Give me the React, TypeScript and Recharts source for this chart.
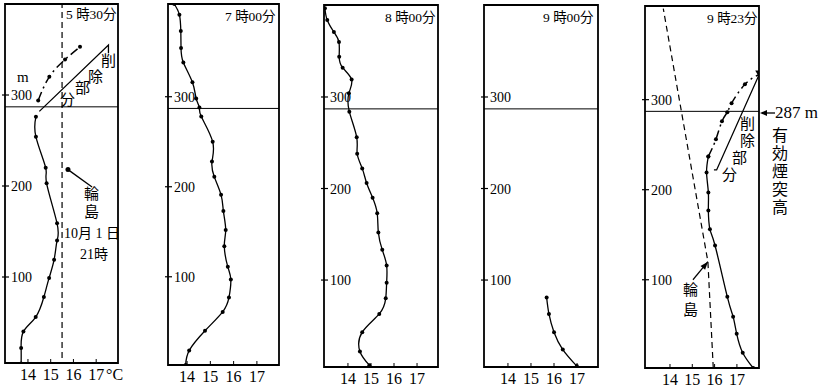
import React from 'react';
import { LineChart, Line, XAxis, YAxis, ReferenceLine, ReferenceArea } from 'recharts';

type Pt = { t: number; h: number };

const tempTicks = [14, 15, 16, 17];
const heightTicks = [100, 200, 300];
const stackHeight = 287;

// 5時30分
const p530Profile: Pt[] = [
  { t: 13.7, h: 5 }, { t: 13.7, h: 22 }, { t: 13.8, h: 40 }, { t: 14.34, h: 56 },
  { t: 14.7, h: 78 }, { t: 14.93, h: 99 }, { t: 15.15, h: 119 }, { t: 15.28, h: 140 },
  { t: 15.28, h: 159 }, { t: 14.82, h: 203 }, { t: 14.78, h: 220 }, { t: 14.35, h: 254 },
  { t: 14.35, h: 276 },
];
const p530Removed: Pt[] = [
  { t: 14.45, h: 294 }, { t: 14.94, h: 320 }, { t: 15.63, h: 339 }, { t: 16.29, h: 353 },
];
const p530Cut: Pt[] = [{ t: 14.5, h: 282 }, { t: 17.54, h: 355 }, { t: 17.54, h: 346 }];
const wajima21: Pt[] = [{ t: 15.5, h: 0 }, { t: 15.5, h: 410 }];
const wajima21Leader: Pt[] = [{ t: 15.76, h: 218 }, { t: 16.82, h: 199 }];

// 7時00分
const p700Profile: Pt[] = [
  { t: 13.94, h: 2 }, { t: 14.09, h: 18 }, { t: 14.77, h: 40 }, { t: 15.53, h: 61 },
  { t: 15.8, h: 77 }, { t: 15.88, h: 97 }, { t: 15.75, h: 111 }, { t: 15.6, h: 134 },
  { t: 15.66, h: 152 }, { t: 15.56, h: 173 }, { t: 15.46, h: 191 }, { t: 15.17, h: 211 },
  { t: 15.07, h: 228 }, { t: 15.1, h: 250 }, { t: 14.61, h: 278 }, { t: 14.53, h: 288 },
  { t: 14.39, h: 298 }, { t: 14.23, h: 316 }, { t: 13.84, h: 338 }, { t: 13.74, h: 354 },
  { t: 13.73, h: 373 }, { t: 13.67, h: 391 }, { t: 13.45, h: 403 },
];

// 8時00分
const p800Profile: Pt[] = [
  { t: 14.93, h: 7 }, { t: 14.52, h: 22 }, { t: 14.62, h: 43 }, { t: 15.36, h: 63 },
  { t: 15.64, h: 80 }, { t: 15.68, h: 97 }, { t: 15.68, h: 116 }, { t: 15.49, h: 133 },
  { t: 15.32, h: 152 }, { t: 15.27, h: 173 }, { t: 15.07, h: 190 }, { t: 14.81, h: 206 },
  { t: 14.62, h: 222 }, { t: 14.4, h: 238 }, { t: 14.38, h: 256 }, { t: 14.06, h: 284 },
  { t: 14.04, h: 304 }, { t: 14.16, h: 319 }, { t: 13.77, h: 332 }, { t: 13.62, h: 344 },
  { t: 13.61, h: 360 }, { t: 13.39, h: 371 }, { t: 13.1, h: 384 }, { t: 13.0, h: 397 },
];

// 9時00分
const p900Profile: Pt[] = [
  { t: 16.99, h: 6 }, { t: 16.38, h: 24 }, { t: 16.0, h: 43 }, { t: 15.78, h: 63 }, { t: 15.68, h: 81 },
];

// 9時23分
const p923Profile: Pt[] = [
  { t: 17.73, h: 2 }, { t: 17.26, h: 19 }, { t: 16.99, h: 40 }, { t: 16.83, h: 59 },
  { t: 16.57, h: 81 }, { t: 16.02, h: 138 }, { t: 15.79, h: 156 }, { t: 15.72, h: 177 },
  { t: 15.72, h: 197 }, { t: 15.64, h: 219 }, { t: 15.72, h: 237 },
];
const p923Removed: Pt[] = [
  { t: 15.72, h: 237 }, { t: 16.06, h: 256 }, { t: 16.33, h: 276 }, { t: 16.57, h: 286 },
  { t: 16.76, h: 296 }, { t: 17.36, h: 317 }, { t: 18.0, h: 328 },
];
const p923Cut: Pt[] = [{ t: 15.97, h: 222 }, { t: 16.09, h: 222 }, { t: 18.0, h: 328 }];
const wajima923: Pt[] = [{ t: 15.94, h: 2 }, { t: 15.7, h: 120 }, { t: 13.7, h: 401 }];
const wajima923Arrow: Pt[] = [{ t: 15.03, h: 100 }, { t: 15.7, h: 120 }];

const ML = 6, MR = 6, MT = 6, MB = 26;
const font = '"Liberation Serif", "Noto Sans CJK JP", serif';

type Cfg = { left: number; top: number; w: number; h: number; x: [number, number]; y: [number, number] };

const cfg530: Cfg = { left: 5, top: 4, w: 113, h: 359, x: [12.99, 17.96], y: [5.5, 400] };
const cfg700: Cfg = { left: 168, top: 4, w: 111, h: 361, x: [13.18, 17.95], y: [2, 403] };
const cfg800: Cfg = { left: 324, top: 5, w: 114, h: 362, x: [12.96, 17.91], y: [5, 400.5] };
const cfg900: Cfg = { left: 484, top: 5, w: 114, h: 362, x: [12.96, 17.91], y: [5, 400.5] };
const cfg923: Cfg = { left: 645, top: 6, w: 114, h: 362, x: [12.88, 17.99], y: [2, 404] };

const dotStyle = { r: 2, fill: '#000', stroke: '#000', strokeWidth: 0 };

function Panel({ cfg, children }: { cfg: Cfg; children: React.ReactNode }) {
  const W = cfg.w + ML + MR;
  const H = cfg.h + MT + MB;
  const yb = MT + cfg.h;
  const XTick = (props: any) => (
    <g>
      <line x1={props.x} x2={props.x} y1={yb} y2={yb - 4} stroke="#000" strokeWidth={1} />
      <text x={props.x} y={yb + 17} textAnchor="middle" fontSize={16} fontFamily={font} fill="#000">
        {props.payload.value}
      </text>
    </g>
  );
  const YTick = (props: any) => (
    <g>
      <line x1={ML - 3} x2={ML + 4} y1={props.y} y2={props.y} stroke="#000" strokeWidth={1.2} />
      <text x={ML + 6} y={props.y + 5} textAnchor="start" fontSize={14} fontFamily={font} fill="#000">
        {props.payload.value}
      </text>
    </g>
  );
  return (
    <div style={{ position: 'absolute', left: cfg.left - ML, top: cfg.top - MT }}>
      <LineChart width={W} height={H} margin={{ top: MT, right: MR, bottom: 0, left: 0 }}>
        <XAxis type="number" dataKey="t" domain={cfg.x} allowDataOverflow ticks={tempTicks}
          tick={XTick} tickLine={false} axisLine={false} height={MB} interval={0} />
        <YAxis type="number" dataKey="h" domain={cfg.y} allowDataOverflow ticks={heightTicks}
          tick={YTick} tickLine={false} axisLine={false} width={ML} interval={0} />
        <ReferenceArea x1={cfg.x[0]} x2={cfg.x[1]} y1={cfg.y[0]} y2={cfg.y[1]}
          fill="#fff" fillOpacity={0} stroke="#000" strokeWidth={1.8} ifOverflow="visible" />
        <ReferenceLine y={stackHeight} stroke="#000" strokeWidth={1} />
        {children}
      </LineChart>
    </div>
  );
}

const firstDot = (p: any) =>
  p.index === 0 ? <circle key={p.index} cx={p.cx} cy={p.cy} r={2.5} fill="#000" /> : <g key={p.index} />;

const triangleEnd = (n: number) => (p: any) =>
  p.index === n - 1 ? (
    <path key={p.index} d={`M${p.cx - 4},${p.cy - 4} L${p.cx + 4},${p.cy - 4} L${p.cx},${p.cy + 3} Z`} fill="#000" />
  ) : (
    <circle key={p.index} cx={p.cx} cy={p.cy} r={2} fill="#000" />
  );

const arrowEnd = (p: any) => {
  if (p.index !== 1) return <g key={p.index} />;
  const ux = 0.64, uy = -0.77;
  const bx = p.cx - ux * 8, by = p.cy - uy * 8;
  const px = -uy * 3, py = ux * 3;
  return <path key={p.index} d={`M${p.cx},${p.cy} L${bx + px},${by + py} L${bx - px},${by - py} Z`} fill="#000" />;
};

const T = ({ x, y, s = 15, children, style }: any) => (
  <div style={{ position: 'absolute', left: x, top: y, fontSize: s, lineHeight: 1, fontFamily: font, whiteSpace: 'nowrap', color: '#000', ...style }}>
    {children}
  </div>
);

export default function App() {
  return (
    <div style={{ position: 'fixed', left: 0, top: 0, width: 826, height: 387, background: '#fff', overflow: 'hidden' }}>
      <Panel cfg={cfg530}>
        <Line data={wajima21} dataKey="h" stroke="#000" strokeWidth={1.2} strokeDasharray="6 4" dot={false} isAnimationActive={false} />
        <Line data={p530Profile} dataKey="h" type="natural" stroke="#000" strokeWidth={1.3} dot={dotStyle} isAnimationActive={false} />
        <Line data={p530Removed} dataKey="h" type="natural" stroke="#000" strokeWidth={1.5} strokeDasharray="9 4 2 4" dot={dotStyle} isAnimationActive={false} />
        <Line data={p530Cut} dataKey="h" stroke="#000" strokeWidth={1.3} dot={false} isAnimationActive={false} />
        <Line data={wajima21Leader} dataKey="h" stroke="#000" strokeWidth={1.3} dot={firstDot} isAnimationActive={false} />
      </Panel>
      <Panel cfg={cfg700}>
        <Line data={p700Profile} dataKey="h" type="natural" stroke="#000" strokeWidth={1.3} dot={dotStyle} isAnimationActive={false} />
      </Panel>
      <Panel cfg={cfg800}>
        <Line data={p800Profile} dataKey="h" type="natural" stroke="#000" strokeWidth={1.3} dot={dotStyle} isAnimationActive={false} />
      </Panel>
      <Panel cfg={cfg900}>
        <Line data={p900Profile} dataKey="h" type="natural" stroke="#000" strokeWidth={1.3} dot={dotStyle} isAnimationActive={false} />
      </Panel>
      <Panel cfg={cfg923}>
        <Line data={wajima923} dataKey="h" stroke="#000" strokeWidth={1.2} strokeDasharray="6 4" dot={false} isAnimationActive={false} />
        <Line data={p923Profile} dataKey="h" type="natural" stroke="#000" strokeWidth={1.3} dot={dotStyle} isAnimationActive={false} />
        <Line data={p923Removed} dataKey="h" type="natural" stroke="#000" strokeWidth={1.5} strokeDasharray="9 4 2 4" dot={triangleEnd(p923Removed.length)} isAnimationActive={false} />
        <Line data={p923Cut} dataKey="h" stroke="#000" strokeWidth={1.3} dot={false} isAnimationActive={false} />
        <Line data={wajima923Arrow} dataKey="h" stroke="#000" strokeWidth={1.2} dot={arrowEnd} isAnimationActive={false} />
      </Panel>

      <T x={66} y={8} s={13.5}>5 時30分</T>
      <T x={225} y={10} s={13.5}>7 時00分</T>
      <T x={385} y={11} s={13.5}>8 時00分</T>
      <T x={543} y={11} s={13.5}>9 時00分</T>
      <T x={707} y={12} s={13.5}>9 時23分</T>

      <T x={17} y={70} s={15}>m</T>
      <T x={101} y={54} s={15}>削</T>
      <T x={88} y={70} s={15}>除</T>
      <T x={75} y={81} s={15}>部</T>
      <T x={60} y={93} s={15}>分</T>
      <T x={84} y={187} s={15}>輪</T>
      <T x={84} y={205} s={15}>島</T>
      <T x={64} y={227} s={14}>10月 1 日</T>
      <T x={80} y={248} s={14}>21時</T>
      <T x={106} y={367} s={16}>°C</T>

      <T x={740} y={117} s={15}>削</T>
      <T x={740} y={134} s={15}>除</T>
      <T x={732} y={151} s={15}>部</T>
      <T x={722} y={168} s={15}>分</T>
      <T x={683} y={283} s={15}>輪</T>
      <T x={683} y={303} s={15}>島</T>

      <T x={775} y={104} s={17}>287 m</T>
      <T x={770} y={127} s={16} style={{ writingMode: 'vertical-rl', lineHeight: 1, letterSpacing: 2 }}>有効煙突高</T>
      <svg width={826} height={387} style={{ position: 'absolute', left: 0, top: 0, pointerEvents: 'none' }}>
        <line x1={762} y1={113} x2={775} y2={113} stroke="#000" strokeWidth={1.3} />
        <path d="M760,113 L767,110 L767,116 Z" fill="#000" />
      </svg>
    </div>
  );
}
